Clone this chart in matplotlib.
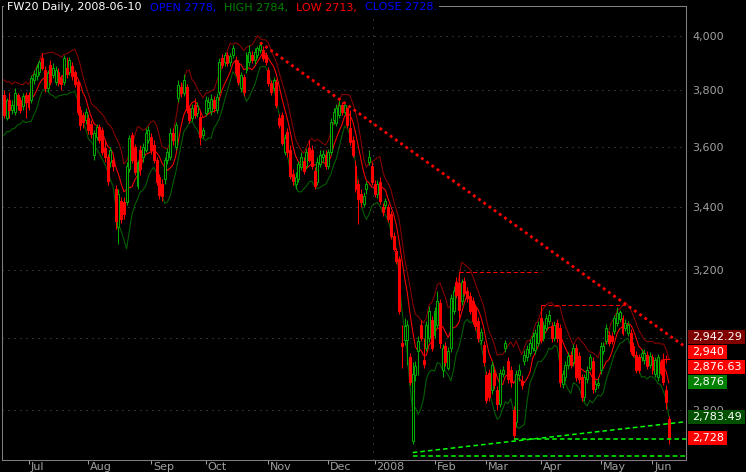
import numpy as np
import pandas as pd
import matplotlib
matplotlib.use("Agg")
import matplotlib.pyplot as plt
from matplotlib.patches import Rectangle
from matplotlib.ticker import FixedLocator, FuncFormatter, NullLocator, NullFormatter

plt.rcParams["font.family"] = ["DejaVu Sans"]

# daily bars (FW20, late Jun 2007 .. 2008-06-10)
opens = [
    3782, 3701, 3764, 3729, 3722, 3782, 3764, 3743, 3782, 3782,
    3764, 3836, 3851, 3866, 3917, 3873, 3807, 3891, 3854, 3829,
    3866, 3843, 3829, 3880, 3866, 3887, 3866, 3829, 3729, 3711,
    3694, 3701, 3680, 3573, 3634, 3669, 3659, 3597, 3566, 3546,
    3556, 3457, 3336, 3418, 3415, 3415, 3523, 3641, 3600, 3467,
    3590, 3563, 3590, 3624, 3634, 3607, 3556, 3496, 3473, 3490,
    3556, 3566, 3648, 3600, 3771, 3811, 3789, 3811, 3736, 3701,
    3746, 3718, 3704, 3641, 3718, 3736, 3725, 3764, 3729, 3793,
    3917, 3902, 3928, 3902, 3928, 3910, 3898, 3807, 3847, 3873,
    3902, 3928, 3910, 3928, 3947, 3947, 3928, 3873, 3825, 3807,
    3829, 3701, 3711, 3583, 3652, 3590, 3506, 3473, 3490, 3530,
    3550, 3533, 3597, 3590, 3517, 3480, 3540, 3563, 3573, 3533,
    3580, 3694, 3683, 3711, 3746, 3722, 3735, 3666, 3624, 3533,
    3473, 3441, 3408, 3457, 3549, 3533, 3473, 3441, 3480, 3398,
    3405, 3398, 3377, 3307, 3258, 3236, 2986, 2995, 2995, 2945,
    2720, 2895, 2964, 3038, 2939, 2972, 3001, 3052, 3010, 3038,
    3101, 2909, 2978, 2917, 2972, 3078, 3166, 3160, 3107, 3169,
    3137, 3122, 3107, 3087, 3049, 2995, 2981, 2895, 2903, 2854,
    2903, 2854, 2817, 2900, 2972, 2936, 2911, 2801, 2770, 2895,
    2879, 2936, 2945, 2958, 2972, 2966, 2986, 3058, 3001, 3029,
    3049, 3035, 3001, 3043, 3029, 2871, 2890, 2925, 2953, 2931,
    2972, 2950, 2890, 2836, 2884, 2917, 2936, 2857, 2868, 2909,
    2964, 2992, 3010, 3007, 3021, 3043, 3055, 3058, 3029, 3015,
    3015, 2978, 2953, 2945, 2945, 2939, 2953, 2925, 2945, 2898,
    2890, 2931, 2939, 2854, 2778,
]
highs = [
    3800, 3771, 3793, 3764, 3807, 3789, 3775, 3789, 3793, 3793,
    3854, 3873, 3895, 3910, 3936, 3887, 3873, 3910, 3898, 3887,
    3880, 3854, 3928, 3921, 3921, 3902, 3873, 3836, 3743, 3722,
    3736, 3715, 3694, 3659, 3680, 3680, 3669, 3624, 3576, 3600,
    3573, 3470, 3457, 3431, 3431, 3546, 3641, 3652, 3610, 3556,
    3604, 3614, 3666, 3673, 3648, 3624, 3566, 3506, 3490, 3566,
    3597, 3666, 3666, 3687, 3836, 3829, 3858, 3822, 3746, 3750,
    3771, 3757, 3729, 3669, 3778, 3775, 3786, 3778, 3789, 3917,
    3932, 3940, 3940, 3936, 3966, 3925, 3910, 3866, 3858, 3940,
    3966, 3943, 3955, 3962, 3975, 3962, 3940, 3884, 3836, 3847,
    3840, 3715, 3722, 3645, 3666, 3604, 3523, 3513, 3550, 3580,
    3563, 3597, 3624, 3607, 3530, 3563, 3587, 3590, 3587, 3593,
    3701, 3736, 3750, 3764, 3755, 3750, 3740, 3729, 3638, 3556,
    3490, 3457, 3447, 3483, 3590, 3546, 3486, 3486, 3496, 3411,
    3428, 3408, 3386, 3320, 3270, 3245, 3038, 3058, 3052, 2958,
    2931, 2936, 3007, 3052, 3001, 3049, 3093, 3064, 3090, 3137,
    3113, 2983, 2989, 2975, 3128, 3151, 3179, 3194, 3175, 3179,
    3149, 3134, 3119, 3098, 3061, 3029, 2992, 2906, 2914, 2936,
    2914, 2865, 2914, 2922, 2995, 2947, 2922, 2812, 2909, 2928,
    2895, 2966, 2980, 2998, 3018, 3026, 3049, 3096, 3049, 3070,
    3081, 3046, 3049, 3055, 3040, 2909, 2936, 2961, 2964, 2983,
    2983, 2961, 2900, 2900, 2922, 2956, 2947, 2882, 2887, 2989,
    2989, 3040, 3021, 3018, 3067, 3090, 3081, 3067, 3055, 3049,
    3026, 2989, 2964, 2956, 2969, 2969, 2964, 2961, 2956, 2947,
    2956, 2942, 2958, 2868, 2784,
]
lows = [
    3701, 3694, 3701, 3715, 3711, 3729, 3718, 3729, 3701, 3729,
    3754, 3822, 3836, 3854, 3873, 3793, 3793, 3818, 3843, 3818,
    3814, 3800, 3818, 3843, 3854, 3836, 3811, 3711, 3659, 3666,
    3680, 3645, 3631, 3556, 3624, 3614, 3570, 3549, 3470, 3530,
    3517, 3329, 3280, 3348, 3361, 3405, 3513, 3543, 3503, 3457,
    3503, 3549, 3580, 3614, 3576, 3543, 3470, 3425, 3418, 3473,
    3540, 3556, 3607, 3590, 3757, 3775, 3778, 3718, 3683, 3690,
    3701, 3704, 3607, 3631, 3708, 3722, 3711, 3722, 3718, 3782,
    3880, 3887, 3887, 3887, 3917, 3851, 3818, 3793, 3778, 3862,
    3887, 3898, 3895, 3917, 3936, 3906, 3891, 3814, 3782, 3796,
    3736, 3666, 3604, 3573, 3566, 3490, 3470, 3457, 3480, 3520,
    3506, 3523, 3546, 3523, 3457, 3470, 3530, 3549, 3523, 3523,
    3570, 3680, 3673, 3701, 3711, 3711, 3666, 3604, 3563, 3447,
    3345, 3398, 3398, 3441, 3536, 3470, 3431, 3428, 3408, 3371,
    3392, 3351, 3298, 3258, 3218, 3069, 2917, 2981, 2923, 2868,
    2713, 2881, 2895, 2992, 2917, 2964, 2989, 2964, 3001, 3029,
    2972, 2890, 2922, 2909, 2961, 3069, 3116, 3058, 3095, 3122,
    3104, 3070, 3040, 3024, 2989, 2983, 2922, 2820, 2825, 2844,
    2857, 2801, 2809, 2890, 2961, 2873, 2862, 2725, 2757, 2879,
    2857, 2925, 2934, 2950, 2964, 2955, 2978, 2986, 2992, 3021,
    3040, 2989, 2992, 2989, 2862, 2860, 2879, 2914, 2917, 2922,
    2879, 2873, 2825, 2825, 2873, 2909, 2846, 2849, 2860, 2900,
    2956, 2983, 2978, 2983, 3012, 3035, 3046, 3010, 3021, 3007,
    2956, 2945, 2903, 2903, 2936, 2928, 2914, 2917, 2900, 2890,
    2879, 2895, 2868, 2804, 2713,
]
closes = [
    3711, 3764, 3729, 3746, 3789, 3746, 3729, 3778, 3757, 3739,
    3843, 3858, 3884, 3902, 3880, 3807, 3862, 3829, 3880, 3873,
    3825, 3822, 3917, 3858, 3910, 3851, 3822, 3722, 3676, 3687,
    3722, 3659, 3645, 3648, 3669, 3624, 3580, 3563, 3483, 3590,
    3533, 3355, 3441, 3361, 3377, 3533, 3631, 3556, 3513, 3546,
    3523, 3600, 3648, 3659, 3590, 3556, 3480, 3438, 3434, 3556,
    3583, 3648, 3624, 3676, 3818, 3789, 3836, 3729, 3694, 3736,
    3711, 3743, 3634, 3659, 3764, 3757, 3768, 3736, 3775, 3902,
    3891, 3928, 3898, 3925, 3955, 3862, 3829, 3854, 3793, 3928,
    3940, 3910, 3940, 3955, 3966, 3917, 3902, 3825, 3793, 3836,
    3746, 3676, 3614, 3631, 3580, 3500, 3483, 3496, 3540, 3566,
    3517, 3583, 3556, 3533, 3467, 3549, 3573, 3576, 3533, 3580,
    3687, 3722, 3736, 3746, 3722, 3745, 3676, 3617, 3573, 3457,
    3425, 3415, 3434, 3473, 3563, 3480, 3441, 3473, 3418, 3383,
    3418, 3361, 3307, 3267, 3227, 3078, 2978, 3035, 3038, 2876,
    2900, 2922, 2992, 3001, 2928, 3038, 3078, 2972, 3078, 3107,
    2986, 2972, 2931, 2964, 3116, 3137, 3125, 3081, 3166, 3131,
    3116, 3078, 3049, 3035, 3001, 3018, 2931, 2828, 2836, 2925,
    2868, 2817, 2903, 2911, 2986, 2884, 2876, 2736, 2898, 2911,
    2868, 2953, 2969, 2986, 3007, 3015, 3038, 2995, 3038, 3058,
    3067, 3001, 3038, 3001, 2876, 2898, 2925, 2950, 2925, 2972,
    2890, 2884, 2836, 2890, 2911, 2945, 2857, 2871, 2873, 2978,
    2978, 3029, 2986, 2992, 3058, 3072, 3075, 3015, 3043, 3038,
    2964, 2953, 2911, 2911, 2958, 2958, 2922, 2950, 2909, 2939,
    2945, 2903, 2876, 2822, 2728,
]

month_labels = ["Jul", "Aug", "Sep", "Oct", "Nov", "Dec", "2008", "Feb", "Mar", "Apr", "May", "Jun"]
month_bars = [9, 31, 54, 74, 97, 119, 136, 158, 177, 197, 219, 238]
y_ticks = [2800, 3000, 3200, 3400, 3600, 3800, 4000]
hidden_ticks = [3000]   # covered by the value tags in the original

# drawn lines (bar index, value)
trend_bars, trend_vals = [94, 250], [3975, 2975]          # red dotted resistance
feb_high = (167, 197, 3194)                               # red dashed
apr_high = (197, 228, 3096)                               # red dashed
support_bars, support_vals = [150, 250], [2690, 2770]     # green dashed rising
mar_low = (187, 2725)                                     # green dashed flat
jan_low = (150, 2681)                                     # green dashed flat
cross_bar, cross_val = 243, 2940

title_parts = [("FW20 Daily, 2008-06-10", "white"), ("OPEN 2778,", "#0000ff"),
               ("HIGH 2784,", "#008000"), ("LOW 2713,", "#ff0000"), ("CLOSE 2728.", "#0000ff")]
side_texts = ["2,942.29", "2,940", "2,876.63", "2,876", "2,783.49", "2,728"]
side_values = [2942.29, 2940, 2876.63, 2876, 2783.49, 2728]
side_colors = ["#800000", "#ff0000", "#ff0000", "#008000", "#005000", "#ff0000"]

W, H = 746, 472
L_PX, R_PX, T_PX, B_PX = 2, 686, 6, 460
GREEN, RED, GREY = "#00a800", "#ff0000", "#a0a0a0"

fig = plt.figure(figsize=(W / 100, H / 100), dpi=100, facecolor="black")
ax = fig.add_axes([L_PX / W, 1 - B_PX / H, (R_PX - L_PX) / W, (B_PX - T_PX) / H], facecolor="black")
ax.set_yscale("log")

df = pd.DataFrame({"open": opens, "high": highs, "low": lows, "close": closes}, dtype=float)
x = np.arange(len(df))
o, h, l, c = (df[k].to_numpy() for k in ["open", "high", "low", "close"])
up = c >= o

# bands: 5-bar typical price +/- 5-bar average true range, red = 7-bar close average
typical = (df["high"] + df["low"] + df["close"]) / 3
prev = df["close"].shift(1).fillna(df["open"])
tr = pd.concat([df["high"] - df["low"], (df["high"] - prev).abs(), (df["low"] - prev).abs()], axis=1).max(axis=1)
mid = typical.rolling(5, min_periods=1).mean()
atr = tr.rolling(5, min_periods=1).mean()
ma = df["close"].rolling(7, min_periods=1).mean()

ax.plot(x, mid + atr, color="#8c0000", lw=0.75, zorder=2)
ax.plot(x, mid - atr, color="#006400", lw=0.75, zorder=2)
ax.plot(x, ma, color=RED, lw=0.75, zorder=2)

ax.vlines(x[up], l[up], h[up], color=GREEN, lw=0.75, zorder=3)
ax.vlines(x[~up], l[~up], h[~up], color=RED, lw=0.75, zorder=3)
ax.bar(x[up], c[up] - o[up], bottom=o[up], width=0.72, facecolor="black", edgecolor=GREEN, lw=0.75, zorder=4)
ax.bar(x[~up], o[~up] - c[~up], bottom=c[~up], width=0.72, facecolor=RED, edgecolor=RED, lw=0.75, zorder=4)

ax.set_xlim(-0.73, 250.3)
ax.set_ylim(2671, 4116)
x_end = ax.get_xlim()[1]

ax.plot(trend_bars, trend_vals, color=RED, lw=2.0, linestyle=(0, (1.0, 1.3)), zorder=6)
for b0, b1, v in [feb_high, apr_high]:
    ax.plot([b0, b1], [v, v], color=RED, lw=0.75, linestyle=(0, (4, 2.5)), zorder=6)
ax.plot(support_bars, support_vals, color="#00ff00", lw=1.1, linestyle=(0, (3, 2)), zorder=6)
for b0, v in [mar_low, jan_low]:
    ax.plot([b0, x_end], [v, v], color="#00ff00", lw=1.1, linestyle=(0, (3, 2)), zorder=6)
ax.plot(cross_bar, cross_val, marker="+", ms=6, mew=0.8, color=RED, zorder=7)

# axes styling
for s in ax.spines.values():
    s.set_color("#808080")
    s.set_linewidth(0.75)
ax.yaxis.tick_right()
ax.yaxis.set_major_locator(FixedLocator(y_ticks))
ax.yaxis.set_major_formatter(FuncFormatter(lambda v, p: "" if v in hidden_ticks else f"{v:,.0f}"))
ax.yaxis.set_minor_locator(NullLocator())
ax.yaxis.set_minor_formatter(NullFormatter())
ax.tick_params(axis="y", length=0, pad=4.3, labelsize=8, labelcolor=GREY)
ax.grid(axis="y", color="#606060", lw=0.72, linestyle=(0, (1, 5)))

ax.set_xticks(month_bars)
ax.set_xticklabels([])
ax.tick_params(axis="x", length=3, width=0.75, color=GREY, direction="out")
for b, lab in zip(month_bars, month_labels):
    ax.text(b + 0.7, -0.004, lab, transform=ax.get_xaxis_transform(), ha="left", va="top",
            color=GREY, fontsize=8)
ax.axvline(month_bars[month_labels.index("2008")] - 0.5, color="#606060", lw=0.72, linestyle=(0, (1, 7)))

renderer = fig.canvas.get_renderer()

# title line
xp = 7
for txt, col in title_parts:
    t = fig.text(xp / W, 1 - 7.5 / H, txt, color=col, fontsize=8, ha="left", va="center", zorder=10)
    xp = t.get_window_extent(renderer).x1 + 8
fig.add_artist(Rectangle((4 / W, 1 - 13 / H), (xp - 10) / W, 13 / H, transform=fig.transFigure,
                         facecolor="black", edgecolor="none", zorder=9))

# value tags on the right, stacked upwards when they would overlap
lo, hi = np.log(ax.get_ylim())
def to_px(v):
    return T_PX + (hi - np.log(v)) / (hi - lo) * (B_PX - T_PX)

ys, prev_y = {}, None
for k in np.argsort(side_values):
    y = to_px(side_values[k])
    if prev_y is not None:
        y = min(y, prev_y - 15)
    ys[k] = prev_y = y
for k, (txt, col) in enumerate(zip(side_texts, side_colors)):
    t = fig.text(692 / W, 1 - ys[k] / H, txt, color="white", fontsize=8, ha="left", va="center", zorder=11)
    x1 = t.get_window_extent(renderer).x1
    fig.add_artist(Rectangle((688 / W, 1 - (ys[k] + 7) / H), (x1 + 3 - 688) / W, 14 / H,
                             transform=fig.transFigure, facecolor=col, edgecolor="none", zorder=10))

fig.savefig("out.png", dpi=100, facecolor="black")
